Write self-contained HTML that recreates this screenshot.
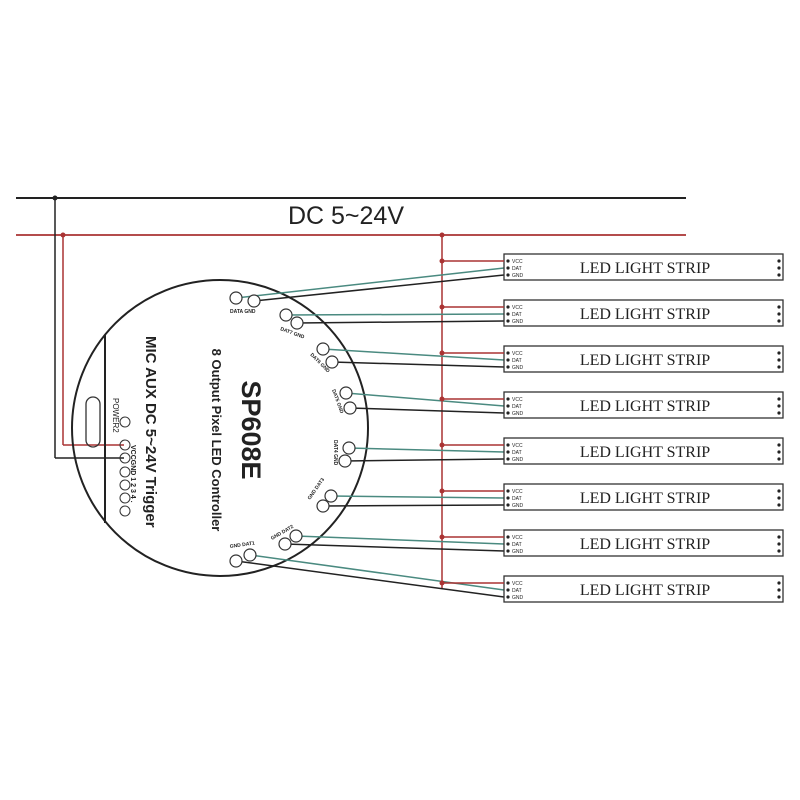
<!DOCTYPE html>
<html><head><meta charset="utf-8"><style>html,body{margin:0;padding:0;background:#fff}svg{display:block}</style></head>
<body>
<svg width="800" height="800" viewBox="0 0 800 800" xmlns="http://www.w3.org/2000/svg" font-family="Liberation Sans, sans-serif">
<rect width="800" height="800" fill="#fff"/>
<line x1="16" y1="198" x2="686" y2="198" stroke="#222" stroke-width="2"/>
<line x1="16" y1="235" x2="686" y2="235" stroke="#a33" stroke-width="1.8"/>
<text x="346" y="224" font-size="25" text-anchor="middle" fill="#222">DC 5~24V</text>
<line x1="55" y1="198" x2="55" y2="458" stroke="#222" stroke-width="1.5"/>
<line x1="55" y1="458" x2="124" y2="458" stroke="#222" stroke-width="1.5"/>
<circle cx="55" cy="198" r="2.5" fill="#222"/>
<line x1="63" y1="235" x2="63" y2="445" stroke="#a33" stroke-width="1.5"/>
<line x1="63" y1="445" x2="124" y2="445" stroke="#a33" stroke-width="1.5"/>
<circle cx="63" cy="235" r="2.5" fill="#a33"/>
<line x1="442" y1="235" x2="442" y2="588" stroke="#a33" stroke-width="1.5"/>
<circle cx="442" cy="235" r="2.5" fill="#a33"/>
<circle cx="220" cy="428" r="148" fill="none" stroke="#222" stroke-width="2"/>
<line x1="105" y1="335" x2="105" y2="523" stroke="#222" stroke-width="2"/>
<rect x="86" y="397" width="14" height="50" rx="7" fill="none" stroke="#333" stroke-width="1.3"/>
<text transform="translate(242,430) rotate(90)" font-size="27" font-weight="bold" text-anchor="middle" fill="#222">SP608E</text>
<text transform="translate(212,440) rotate(90)" font-size="13" font-weight="bold" text-anchor="middle" fill="#222">8 Output Pixel LED Controller</text>
<text transform="translate(146,336) rotate(90)" font-size="15" font-weight="bold" fill="#222">MIC AUX  DC 5~24V Trigger</text>
<text transform="translate(113,398) rotate(90)" font-size="8" fill="#222">POWER2</text>
<text transform="translate(131,445) rotate(90)" font-size="7" font-weight="bold" fill="#222">VCCGND 1  2  3  4 .</text>
<g fill="none" stroke="#333" stroke-width="1">
<circle cx="125" cy="422" r="5"/><circle cx="125" cy="445" r="5"/><circle cx="125" cy="458" r="5"/>
<circle cx="125" cy="472" r="5"/><circle cx="125" cy="485" r="5"/><circle cx="125" cy="498" r="5"/><circle cx="125" cy="511" r="5"/>
</g>
<g stroke-width="1.5">
<line x1="254" y1="301" x2="504" y2="275" stroke="#222"/><line x1="236" y1="298" x2="504" y2="268" stroke="#4a8a80"/>
<line x1="297" y1="323" x2="504" y2="321" stroke="#222"/><line x1="286" y1="315" x2="504" y2="314" stroke="#4a8a80"/>
<line x1="332" y1="362" x2="504" y2="367" stroke="#222"/><line x1="323" y1="349" x2="504" y2="360" stroke="#4a8a80"/>
<line x1="350" y1="408" x2="504" y2="413" stroke="#222"/><line x1="346" y1="393" x2="504" y2="406" stroke="#4a8a80"/>
<line x1="345" y1="461" x2="504" y2="459" stroke="#222"/><line x1="349" y1="448" x2="504" y2="452" stroke="#4a8a80"/>
<line x1="323" y1="506" x2="504" y2="505" stroke="#222"/><line x1="331" y1="496" x2="504" y2="498" stroke="#4a8a80"/>
<line x1="285" y1="544" x2="504" y2="551" stroke="#222"/><line x1="296" y1="536" x2="504" y2="544" stroke="#4a8a80"/>
<line x1="236" y1="561" x2="504" y2="597" stroke="#222"/><line x1="250" y1="555" x2="504" y2="590" stroke="#4a8a80"/>
</g>
<g fill="#fff" stroke="#333" stroke-width="1.2">
<circle cx="236" cy="298" r="6"/><circle cx="254" cy="301" r="6"/>
<circle cx="286" cy="315" r="6"/><circle cx="297" cy="323" r="6"/>
<circle cx="323" cy="349" r="6"/><circle cx="332" cy="362" r="6"/>
<circle cx="346" cy="393" r="6"/><circle cx="350" cy="408" r="6"/>
<circle cx="349" cy="448" r="6"/><circle cx="345" cy="461" r="6"/>
<circle cx="331" cy="496" r="6"/><circle cx="323" cy="506" r="6"/>
<circle cx="296" cy="536" r="6"/><circle cx="285" cy="544" r="6"/>
<circle cx="250" cy="555" r="6"/><circle cx="236" cy="561" r="6"/>
</g>
<g font-size="5" font-weight="bold" fill="#222">
<text x="230" y="313">DATA GND</text>
<text transform="translate(280,330) rotate(20)">DAT7 GND</text>
<text transform="translate(310,355) rotate(45)">DAT6 GND</text>
<text transform="translate(332,390) rotate(70)">DAT5 GND</text>
<text transform="translate(334,440) rotate(90)">DAT4 GND</text>
<text transform="translate(310,500) rotate(-55)">GND DAT3</text>
<text transform="translate(272,540) rotate(-30)">GND DAT2</text>
<text transform="translate(230,548) rotate(-8)">GND DAT1</text>
</g>
<g id="s">
<g transform="translate(0,254)"><rect x="504" y="0" width="279" height="26" fill="#fff" stroke="#333" stroke-width="1.3"/><line x1="442" y1="7" x2="504" y2="7" stroke="#a33" stroke-width="1.5"/><circle cx="442" cy="7" r="2.5" fill="#a33"/><circle cx="508" cy="7" r="1.6" fill="#222"/><circle cx="508" cy="14" r="1.6" fill="#222"/><circle cx="508" cy="21" r="1.6" fill="#222"/><text x="512" y="9" font-size="5" fill="#222">VCC</text><text x="512" y="16" font-size="5" fill="#222">DAT</text><text x="512" y="23" font-size="5" fill="#222">GND</text><text x="645" y="19" font-size="16" font-family="Liberation Serif, serif" text-anchor="middle" fill="#222">LED  LIGHT STRIP</text><circle cx="779" cy="7" r="1.6" fill="#222"/><circle cx="779" cy="14" r="1.6" fill="#222"/><circle cx="779" cy="21" r="1.6" fill="#222"/></g>
</g>
<use href="#s" y="46"/><use href="#s" y="92"/><use href="#s" y="138"/><use href="#s" y="184"/><use href="#s" y="230"/><use href="#s" y="276"/><use href="#s" y="322"/>
</svg>
</body></html>
